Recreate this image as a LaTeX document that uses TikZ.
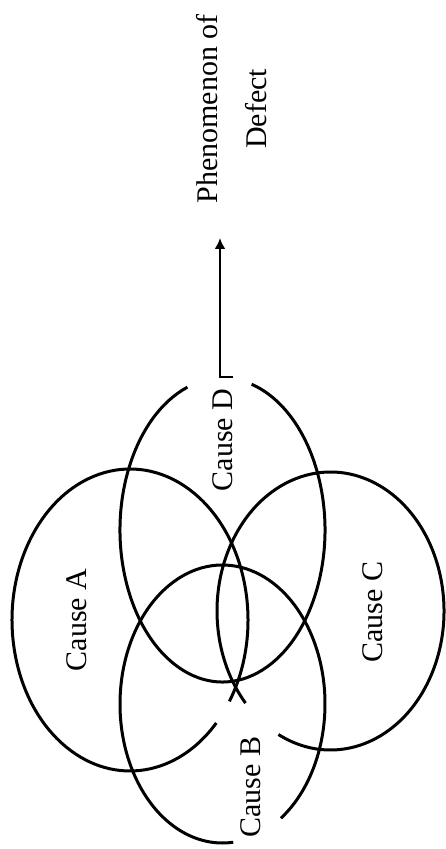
\documentclass[tikz,border=0pt]{standalone}
\usepackage{fontspec}
\setmainfont{Liberation Serif}
\usetikzlibrary{arrows.meta}
\begin{document}
\begin{tikzpicture}[x=1pt, y=1pt,
  ringLine/.style={line width=3pt},
  causeLabel/.style={rotate=90, inner sep=0pt, font=\fontsize{30}{36}\selectfont},
  effectLabel/.style={rotate=90, inner sep=0pt, align=center, font=\fontsize{30}{49}\selectfont}
]
\useasboundingbox (0,0) rectangle (445,849);
% the four open rings
\draw[ringLine] (130,229) ++(-32.6:118 and 151) arc[start angle=-32.6, end angle=317, x radius=118, y radius=151];
\draw[ringLine] (330.5,238) ++(242.7:113.5 and 139) arc[start angle=242.7, end angle=581.5, x radius=113.5, y radius=139];
\draw[ringLine] (222.5,145) ++(-55.3:102.5 and 139) arc[start angle=-55.3, end angle=276, x radius=102.5, y radius=139];
\draw[ringLine] (222.5,319) ++(110:102.5 and 152) arc[start angle=110, end angle=433.5, x radius=102.5, y radius=152];
% labels
\node[causeLabel] (causeA) at (77,229) {Cause A};
\node[causeLabel] (causeB) at (251,62) {Cause B};
\node[causeLabel] (causeC) at (372.5,237) {Cause C};
\node[causeLabel] (causeD) at (222.5,409) {Cause D};
\node[effectLabel] (defect) at (232,740) {Phenomenon of\\Defect};
% arrow to the defect
\coordinate (arrowFoot) at (233,472);
\coordinate (arrowTip) at (220,611);
\draw[line width=2.6pt, -{Latex[length=11pt,width=11pt]}] (arrowFoot) -| (arrowTip);
\end{tikzpicture}
\end{document}
